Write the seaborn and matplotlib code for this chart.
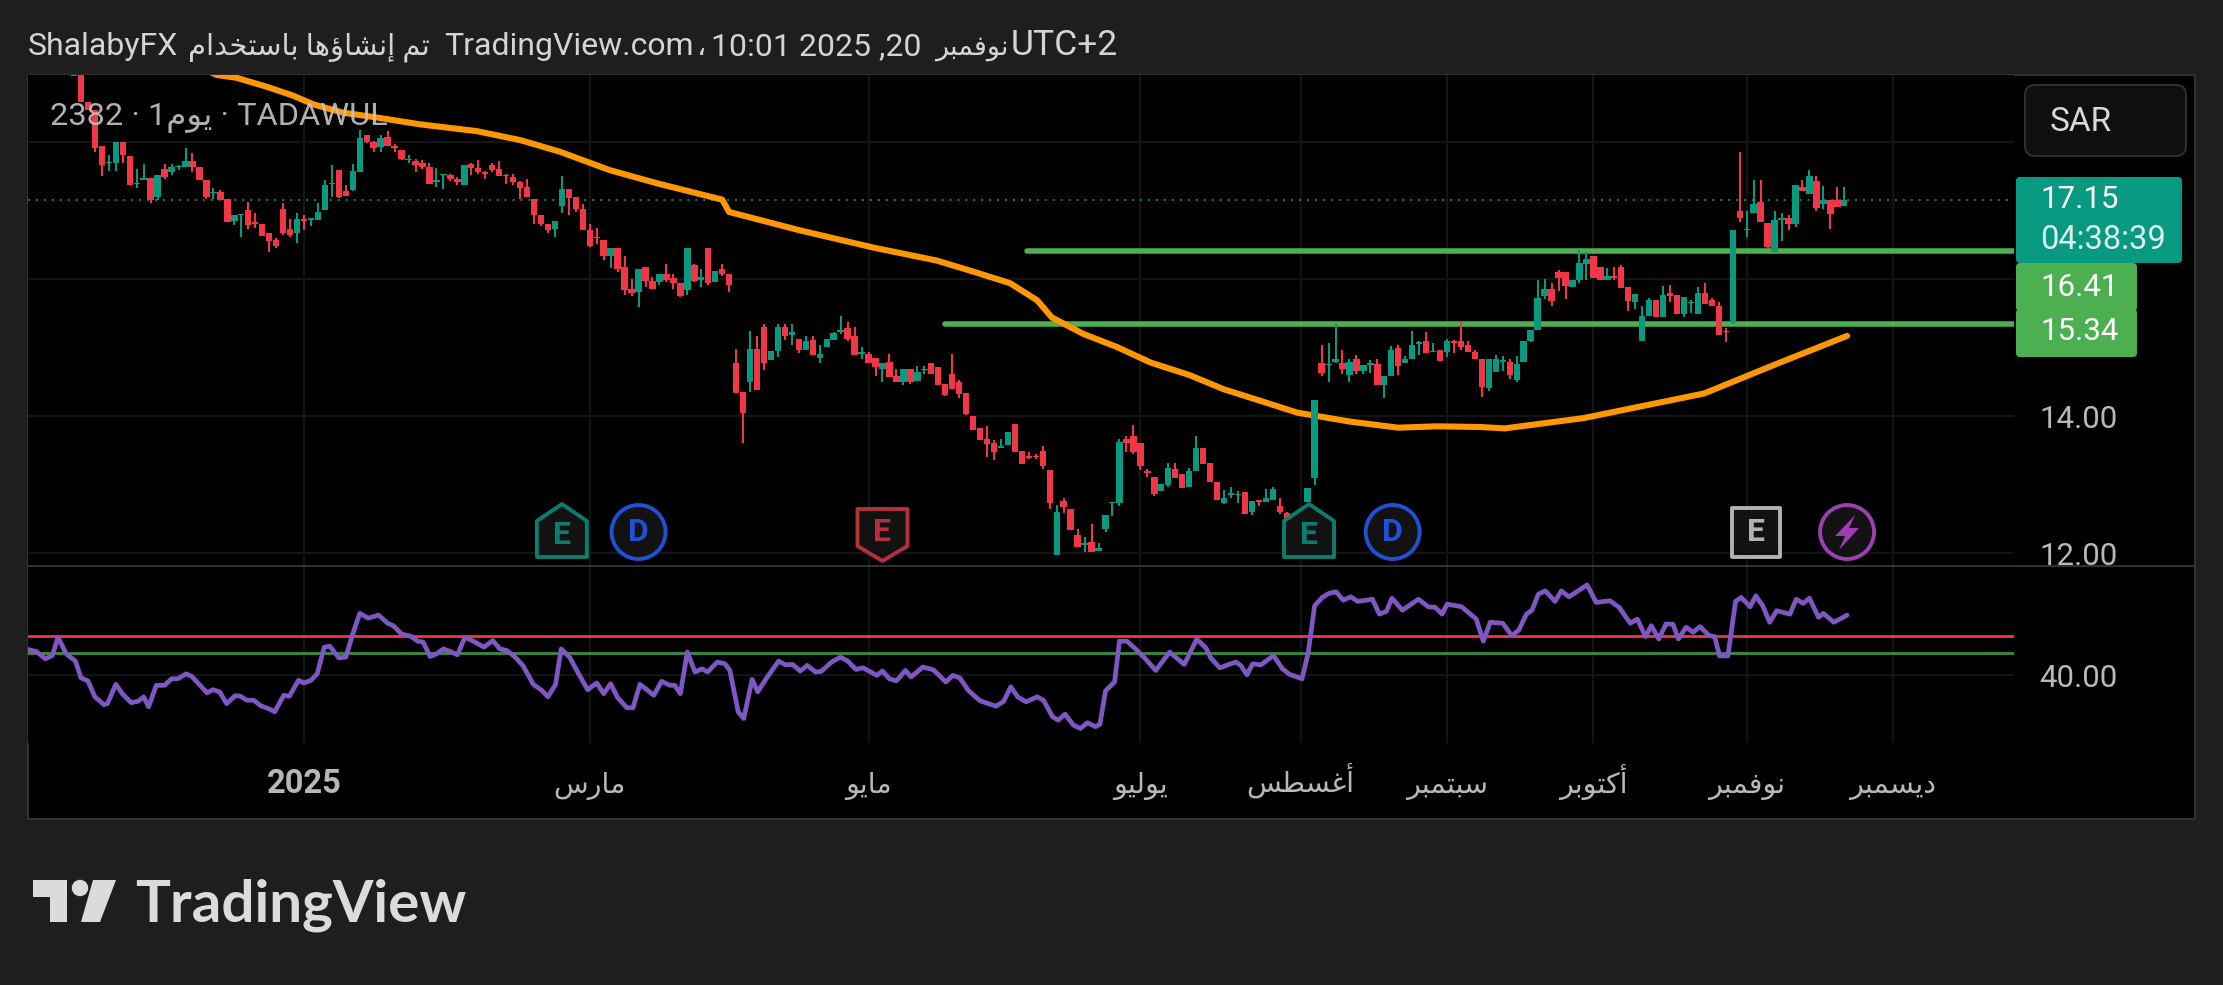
import unicodedata
import numpy as np
import matplotlib
matplotlib.use("Agg")
import matplotlib.pyplot as plt
import seaborn as sns
from matplotlib.patches import Circle, FancyBboxPatch, Polygon, Rectangle

# bars start one before the first readable candle, which is mostly off the top
open_px = [19.20,
    19.08,18.58,18.47,17.94,17.69,17.69,18.00,17.80,17.39,17.45,
    17.47,17.20,17.61,17.56,17.63,17.63,17.73,17.64,17.44,17.25,
    17.27,17.17,16.85,16.93,17.01,16.83,16.81,16.67,16.57,17.02,
    16.73,16.67,16.88,16.87,16.87,17.01,17.39,17.60,17.28,17.30,
    17.57,18.10,18.00,17.93,18.08,17.94,17.88,17.74,17.72,17.69,
    17.64,17.42,17.52,17.52,17.46,17.38,17.68,17.62,17.57,17.67,
    17.61,17.52,17.49,17.42,17.34,17.17,16.94,16.81,16.73,17.07,
    17.31,17.20,17.02,16.72,16.62,16.57,16.33,16.46,16.17,15.86,
    15.81,16.18,15.97,15.96,16.07,16.01,15.95,15.84,16.20,15.99,
    16.46,15.96,16.14,16.07,14.78,14.35,14.49,14.98,15.30,14.82,
    14.95,15.30,15.19,15.13,14.96,15.11,14.85,15.01,15.11,15.23,
    15.28,15.17,14.91,14.91,14.85,14.68,14.79,14.58,14.49,14.68,
    14.51,14.67,14.77,14.71,14.47,14.61,14.50,14.34,14.00,13.82,
    13.66,13.60,13.54,13.58,13.88,13.49,13.41,13.42,13.49,13.21,
    11.97,12.76,12.65,12.26,12.12,12.16,12.03,12.35,12.73,12.73,
    13.66,13.71,13.60,13.20,13.11,12.91,12.99,13.22,13.16,12.96,
    13.20,13.53,13.32,13.04,12.73,12.84,12.84,12.89,12.60,12.77,
    12.75,12.78,12.69,12.58,12.50,12.44,12.75,13.10,14.77,14.74,
    14.79,14.77,14.60,14.84,14.66,14.74,14.76,14.46,14.58,14.99,
    14.78,14.84,15.05,15.10,14.93,14.96,14.93,15.09,15.09,15.04,
    14.94,14.84,14.41,14.65,14.79,14.79,14.53,14.79,15.09,15.25,
    15.75,15.85,16.11,16.11,15.89,15.99,16.22,16.33,16.18,15.99,
    16.04,16.18,15.88,15.66,15.09,15.46,15.70,15.45,15.79,15.77,
    15.49,15.65,15.49,15.79,15.70,15.61,15.24,15.36,16.99,16.71,
    16.97,17.12,16.82,16.39,16.87,16.89,16.80,17.35,17.24,17.43,
    17.09,17.16,17.16,17.06]
high_px = [19.30,
    19.10,18.58,18.47,17.94,17.81,18.00,18.00,17.80,17.61,17.68,
    17.47,17.52,17.68,17.68,17.67,17.91,17.84,17.64,17.44,17.33,
    17.30,17.17,16.93,16.95,17.13,16.96,16.81,16.68,16.60,17.11,
    16.88,16.96,16.93,16.89,17.11,17.45,17.67,17.60,17.38,17.68,
    18.18,18.10,18.02,18.11,18.16,17.97,17.89,17.81,17.75,17.74,
    17.69,17.62,17.54,17.54,17.49,17.67,17.69,17.74,17.58,17.69,
    17.72,17.54,17.54,17.43,17.46,17.17,16.94,16.81,16.85,17.50,
    17.31,17.20,17.10,16.81,16.75,16.57,16.46,16.46,16.33,16.00,
    16.15,16.18,16.03,16.07,16.22,16.07,15.95,16.46,16.22,16.15,
    16.46,16.12,16.22,16.07,14.98,14.35,15.24,15.17,15.35,14.95,
    15.34,15.34,15.34,15.13,15.17,15.17,15.04,15.12,15.23,15.46,
    15.37,15.30,15.01,14.94,14.85,14.78,14.90,14.68,14.68,14.68,
    14.73,14.73,14.77,14.71,14.47,14.90,14.52,14.34,14.00,13.82,
    13.85,13.65,13.67,13.76,13.88,13.49,13.48,13.45,13.56,13.21,
    12.70,12.81,12.65,12.35,12.24,12.43,12.14,12.56,12.75,13.66,
    13.71,13.87,13.60,13.22,13.11,13.01,13.31,13.32,13.16,13.24,
    13.71,13.53,13.32,13.04,12.92,12.97,12.90,12.89,12.76,12.78,
    12.94,12.97,12.81,12.60,12.52,12.58,12.95,14.24,15.04,15.06,
    15.35,14.97,14.84,14.89,14.75,14.82,14.83,14.58,15.02,15.04,
    14.87,15.24,15.10,15.23,15.06,14.96,15.12,15.11,15.37,15.10,
    14.96,14.84,14.84,14.89,14.88,14.84,14.87,15.10,15.26,15.99,
    16.00,15.94,16.13,16.11,15.99,16.42,16.39,16.33,16.18,16.16,
    16.18,16.21,15.88,15.78,15.61,15.72,15.70,15.90,15.91,15.77,
    15.74,15.69,15.89,15.95,15.72,15.66,15.29,16.72,17.85,16.99,
    17.45,17.45,16.82,17.00,16.96,16.94,17.38,17.45,17.59,17.50,
    17.36,17.16,17.35,17.34]
low_px = [18.96,
    18.58,18.47,17.86,17.50,17.58,17.58,17.69,17.38,17.33,17.44,
    17.11,17.16,17.46,17.52,17.59,17.63,17.57,17.44,17.17,17.17,
    17.16,16.83,16.79,16.62,16.73,16.74,16.63,16.40,16.46,16.64,
    16.62,16.53,16.71,16.77,16.87,17.01,17.20,17.18,17.21,17.28,
    17.57,17.98,17.86,17.86,17.94,17.86,17.74,17.69,17.57,17.61,
    17.39,17.35,17.32,17.43,17.38,17.38,17.52,17.54,17.46,17.57,
    17.50,17.39,17.37,17.17,17.20,16.81,16.78,16.68,16.62,16.97,
    16.94,16.98,16.71,16.47,16.51,16.28,16.16,16.10,15.77,15.75,
    15.59,15.88,15.86,15.91,15.96,15.86,15.74,15.77,15.96,15.88,
    15.91,15.96,16.04,15.81,14.34,13.61,14.35,14.38,14.67,14.82,
    14.86,15.11,15.04,14.92,14.96,14.89,14.78,15.01,15.11,15.20,
    15.10,14.89,14.83,14.77,14.59,14.50,14.57,14.49,14.45,14.47,
    14.51,14.61,14.61,14.45,14.29,14.40,14.26,14.01,13.80,13.65,
    13.40,13.36,13.54,13.58,13.48,13.30,13.37,13.38,13.23,12.65,
    11.97,12.59,12.33,12.09,12.02,12.02,12.03,12.31,12.54,12.69,
    13.48,13.45,13.21,13.11,12.83,12.91,12.96,13.09,12.95,12.96,
    13.20,13.30,13.04,12.77,12.71,12.81,12.73,12.57,12.55,12.69,
    12.75,12.78,12.57,12.48,12.42,12.44,12.75,12.99,14.58,14.50,
    14.77,14.61,14.50,14.62,14.61,14.63,14.45,14.27,14.58,14.60,
    14.78,14.84,14.89,14.92,14.93,14.81,14.86,14.92,14.97,14.93,
    14.83,14.28,14.36,14.65,14.66,14.54,14.50,14.79,15.08,15.25,
    15.71,15.61,15.82,15.71,15.89,15.95,15.99,16.02,15.99,15.99,
    15.99,15.87,15.54,15.57,15.09,15.46,15.45,15.45,15.67,15.49,
    15.44,15.51,15.49,15.63,15.60,15.19,15.08,15.34,16.84,16.62,
    16.97,16.83,16.45,16.39,16.56,16.71,16.76,17.28,17.24,17.00,
    17.02,16.73,17.05,17.06]
close_px = [18.96,
    18.58,18.47,17.92,17.67,17.71,18.00,17.81,17.38,17.41,17.47,
    17.16,17.52,17.49,17.63,17.65,17.73,17.63,17.44,17.20,17.27,
    17.16,16.83,16.93,16.95,16.79,16.81,16.63,16.56,16.48,16.67,
    16.65,16.88,16.85,16.89,16.98,17.38,17.41,17.20,17.21,17.58,
    18.06,18.00,17.92,18.06,17.94,17.92,17.76,17.76,17.66,17.64,
    17.39,17.44,17.54,17.46,17.42,17.67,17.62,17.57,17.54,17.59,
    17.51,17.50,17.42,17.33,17.20,16.94,16.81,16.72,16.85,17.31,
    17.19,17.02,16.71,16.48,16.60,16.33,16.46,16.14,15.84,15.80,
    16.15,15.97,15.86,16.07,15.99,15.95,15.75,16.46,15.97,16.03,
    15.95,16.12,16.07,15.91,14.34,14.05,14.98,14.38,14.78,14.95,
    15.30,15.17,15.22,14.96,15.10,14.89,14.91,15.12,15.21,15.26,
    15.13,14.89,14.93,14.78,14.71,14.78,14.57,14.49,14.68,14.50,
    14.65,14.69,14.61,14.45,14.31,14.40,14.32,14.03,13.80,13.65,
    13.59,13.48,13.56,13.76,13.48,13.30,13.39,13.40,13.27,12.73,
    12.60,12.67,12.33,12.09,12.14,12.02,12.08,12.56,12.75,13.62,
    13.61,13.48,13.27,13.17,12.86,13.01,13.24,13.09,12.95,13.20,
    13.53,13.30,13.04,12.78,12.80,12.87,12.86,12.57,12.76,12.75,
    12.80,12.93,12.60,12.50,12.44,12.58,12.95,14.24,14.63,14.76,
    14.83,14.68,14.79,14.66,14.75,14.77,14.45,14.58,14.96,14.73,
    14.84,15.04,15.08,14.92,14.95,14.81,15.09,15.06,15.01,14.93,
    14.83,14.42,14.84,14.84,14.82,14.60,14.76,15.10,15.26,15.73,
    15.85,15.68,16.01,15.90,15.99,16.24,16.29,16.02,15.99,16.04,
    16.02,15.87,15.68,15.78,15.46,15.70,15.45,15.77,15.76,15.49,
    15.74,15.67,15.79,15.63,15.60,15.19,15.22,16.72,16.89,16.73,
    17.10,16.83,16.47,16.86,16.89,16.81,17.38,17.29,17.50,17.04,
    17.15,16.95,17.05,17.15]

ma_bar = [10, 16, 19.5, 22.3, 26.6, 30.4, 33.4, 37.6, 42.4, 48.6, 56.8, 63, 68.7, 75.9, 82.6, 92, 93,
          103.2, 113.7, 122.8, 128, 133.3, 137.2, 139.3, 143.8, 148.6, 153.5, 159, 164, 169.6, 174.5,
          182, 189, 194.5, 200.7, 204.3, 215.6, 232.9, 243.5, 253.4]
ma_val = [19.45, 19.15, 18.98, 18.94, 18.81, 18.68, 18.55, 18.43, 18.36, 18.26, 18.16, 18.03, 17.86, 17.59, 17.40, 17.16, 16.98,
          16.71, 16.46, 16.27, 16.11, 15.94, 15.69, 15.44, 15.20, 15.01, 14.78, 14.60, 14.39, 14.21, 14.05,
          13.92, 13.83, 13.85, 13.84, 13.82, 13.97, 14.33, 14.77, 15.17]

rsi_bar = [-7.6,-6.4,-5.1,-4.1,-3.3,-2.1,-0.8,0.0,1.0,2.0,3.3,3.8,5.0,6.0,7.2,8.2,9.0,9.7,10.8,12.0,
    13.0,13.9,15.1,15.9,17.1,18.1,18.9,19.9,20.9,22.1,22.8,23.8,24.8,25.8,26.9,27.8,29.1,29.9,31.2,32.0,
    33.0,33.9,34.9,35.7,37.0,38.0,39.0,40.0,41.2,42.7,44.0,44.8,46.0,47.3,48.3,49.1,50.1,51.0,52.0,53.0,
    54.0,55.1,56.3,57.8,59.1,60.1,61.1,62.2,63.4,64.9,66.1,67.0,68.1,68.9,70.1,71.4,72.7,74.0,75.0,76.0,
    77.0,78.3,79.2,80.2,82.2,83.3,84.5,85.2,86.0,87.0,88.1,89.1,89.9,91.3,92.4,93.1,94.3,95.1,96.3,97.1,
    98.3,100.1,101.1,102.1,103.2,104.2,105.4,106.2,107.7,109.0,110.0,111.2,112.2,114.2,115.0,116.0,117.0,118.3,119.1,120.8,
    122.3,124.1,125.1,126.1,127.3,129.0,131.3,132.4,133.4,134.4,135.6,137.2,138.1,139.4,140.2,141.2,142.4,143.4,144.4,145.6,
    146.2,147.0,148.3,149.0,150.1,151.3,152.6,154.2,156.2,158.3,160.1,161.4,162.1,163.4,164.7,165.7,166.4,167.3,168.1,169.3,
    171.1,172.4,173.4,175.2,176.1,177.0,178.1,179.1,180.1,181.1,182.2,183.2,185.3,186.3,187.3,188.1,189.6,191.9,193.3,194.3,
    195.3,196.0,198.1,200.2,201.2,202.2,204.0,205.3,206.3,207.4,208.2,209.1,210.1,211.5,212.4,213.5,216.1,217.4,219.4,220.7,
    222.3,223.3,224.5,225.3,226.4,227.4,228.4,229.2,230.3,231.3,232.3,233.6,234.4,235.1,236.3,237.4,238.2,239.5,240.3,241.3,
    242.3,243.3,245.2,246.1,247.1,248.0,249.3,250.0,251.5,253.4]
rsi_val = [53.0,52.0,48.3,50.0,59.2,50.8,47.2,38.8,37.2,29.2,25.3,25.8,35.5,30.5,26.3,27.0,29.2,24.2,35.0,35.0,
    38.3,38.3,40.8,39.5,35.0,31.2,32.8,31.7,25.8,29.7,29.7,27.5,27.5,24.7,23.3,21.7,30.0,29.5,37.5,36.2,
    37.5,40.8,54.2,54.7,48.8,49.2,60.8,71.2,68.8,70.3,66.2,65.0,60.8,59.7,57.2,56.7,49.5,50.8,53.3,52.0,
    50.3,59.2,57.2,54.2,57.5,53.3,52.5,49.5,45.0,35.5,32.5,29.2,35.5,53.3,49.2,40.8,32.8,36.2,30.8,35.8,
    28.8,23.8,23.7,35.5,30.0,37.0,35.0,35.0,30.8,51.7,41.7,43.3,41.7,46.7,45.8,42.5,21.7,18.3,38.0,31.7,
    38.3,47.2,45.3,45.5,42.2,45.0,41.7,42.0,46.7,49.2,47.2,43.0,43.8,40.0,42.2,38.3,37.2,42.5,39.2,44.2,
    42.8,36.7,40.0,38.7,32.5,27.2,24.5,27.0,34.2,29.2,26.7,29.2,27.5,19.2,17.5,20.5,15.0,13.3,16.2,14.2,
    15.5,32.2,36.7,57.2,57.2,53.3,48.8,42.5,51.7,45.5,58.3,53.8,48.8,43.8,45.5,46.7,45.0,40.3,45.8,45.3,
    50.0,43.3,40.5,38.3,51.7,75.0,79.2,81.3,82.0,77.8,79.5,77.2,78.3,70.8,72.2,78.8,72.8,78.3,74.5,74.2,
    70.8,75.8,74.5,68.3,57.2,66.7,66.2,60.0,62.8,70.8,72.8,80.8,82.5,77.2,82.5,79.5,85.5,76.7,77.5,74.2,
    66.2,68.3,59.5,65.0,58.3,65.8,65.8,58.3,64.2,61.7,64.5,60.0,59.5,49.8,49.8,77.2,79.2,74.5,80.0,75.0,
    66.7,72.5,70.8,78.3,76.2,78.8,69.2,71.2,66.7,70.3]

level_prices = [16.41, 15.34]
level_start = [135.7, 124]
rsi_upper = 60.0
rsi_lower = 51.2
price_ticks = [12, 14, 16, 18]
rsi_ticks = [40]
month_bar = [32, 73, 113, 152, 175, 196, 217, 239, 260]
month_names = ["2025", "مارس", "مايو", "يوليو", "أغسطس", "سبتمبر", "أكتوبر", "نوفمبر", "ديسمبر"]
events_e = [(69, "#0b7d6c"), (115, "#b5303c"), (176.2, "#0b7d6c"), (240.3, "#b2b2b2")]
events_d = [80, 188.2]
event_bolt = 253.4

RED = "#F23645"
TEAL = "#089981"
GREEN = "#4CAF50"
ORANGE = "#FF9800"
PURPLE = "#7E57C2"
GRID = "#141414"
TXT = "#b8b8b8"
W, H = 2223, 985

NO_JOIN_NEXT = "ادذرزوأإآؤء"


def ar(word):
    # matplotlib does no shaping or bidi, so pick the joined forms and flip the word
    out = []
    for k, ch in enumerate(word):
        joins_prev = k > 0 and word[k - 1] not in NO_JOIN_NEXT
        joins_next = k < len(word) - 1 and ch not in NO_JOIN_NEXT
        if joins_prev and joins_next:
            form = "MEDIAL"
        elif joins_prev:
            form = "FINAL"
        elif joins_next:
            form = "INITIAL"
        else:
            form = "ISOLATED"
        out.append(unicodedata.lookup(f"{unicodedata.name(ch)} {form} FORM"))
    return "".join(reversed(out))


sns.set_theme(style="dark", rc={"axes.facecolor": "black", "figure.facecolor": "#1e1e1e"})
plt.rcParams["font.family"] = ["Roboto", "DejaVu Sans"]

fig = plt.figure(figsize=(W / 100, H / 100), dpi=100, facecolor="#1e1e1e")


def box(left, top, right, bottom):
    return [left / W, 1 - bottom / H, (right - left) / W, (bottom - top) / H]


bg = fig.add_axes([0, 0, 1, 1], zorder=0)
bg.set_xlim(0, W)
bg.set_ylim(H, 0)
bg.axis("off")
bg.add_patch(Rectangle((28, 75), 2167, 744, facecolor="black", edgecolor="#303030", lw=1.5))
bg.plot([28, 2195], [566, 566], color="#303030", lw=1.6)

ax = fig.add_axes(box(28, 75, 2014, 565), zorder=2)
ax_rsi = fig.add_axes(box(28, 567, 2014, 743), zorder=2)
over = fig.add_axes([0, 0, 1, 1], zorder=5)
over.set_xlim(0, W)
over.set_ylim(H, 0)
over.axis("off")
over.patch.set_alpha(0)

# price pane
bars = np.arange(-1, 254)
o = np.array(open_px)
c = np.array(close_px)
colors = [TEAL if cl >= op else RED for op, cl in zip(o, c)]

for price, start in zip(level_prices, level_start):
    ax.plot([start, 277.4], [price, price], color=GREEN, lw=4.0, zorder=2, solid_capstyle="round")
ax.axhline(close_px[-1], color=TEAL, lw=1.3, ls=(0, (1, 3.4)), zorder=1.5)
sns.lineplot(x=ma_bar, y=ma_val, ax=ax, color=ORANGE, lw=4.4, sort=False, estimator=None,
             zorder=3, solid_capstyle="round")
ax.vlines(bars, low_px, high_px, colors=colors, lw=1.45, zorder=4)
ax.bar(bars, np.abs(c - o), bottom=np.minimum(o, c), width=0.92, color=colors, lw=0, zorder=4)

ax.set_xlim(-7.6, 277.35)
ax.set_ylim(11.825, 18.98)
ax.set_yticks(price_ticks)
ax.set_yticklabels(["12.00", "14.00", "", ""])

# rsi pane
ax_rsi.axhline(rsi_upper, color=RED, lw=2.0, zorder=2)
ax_rsi.axhline(rsi_lower, color="#388E3C", lw=2.0, zorder=2)
sns.lineplot(x=rsi_bar, y=rsi_val, ax=ax_rsi, color=PURPLE, lw=3.4, sort=False, estimator=None, zorder=3)
ax_rsi.set_xlim(-7.6, 277.35)
ax_rsi.set_ylim(6, 94.5)
ax_rsi.set_yticks(rsi_ticks)
ax_rsi.set_yticklabels(["40.00"])

for a in (ax, ax_rsi):
    a.set_xlabel("")
    a.set_ylabel("")
    a.yaxis.tick_right()
    a.set_xticks(month_bar)
    a.grid(True, color=GRID, lw=1.6)
    a.set_axisbelow(True)
    a.tick_params(axis="both", length=0)
    a.tick_params(axis="y", labelsize=22.5, labelcolor=TXT, pad=18.5)
    for s in a.spines.values():
        s.set_visible(False)
    a.set_facecolor("black")
ax.set_xticklabels([])
ax_rsi.set_xticklabels(["2025"] + [ar(n) for n in month_names[1:]])
ax_rsi.tick_params(axis="x", labelsize=20.5, labelcolor=TXT, pad=36)
for lab in ax_rsi.get_xticklabels():
    lab.set_verticalalignment("baseline")
year_lab = ax_rsi.get_xticklabels()[0]
year_lab.set_fontweight("bold")
year_lab.set_fontsize(23.5)

# event badges, x follows the bar scale
fig.canvas.draw()
def bar_x(i):
    return ax.transData.transform((i, 12))[0]


for i, col in events_e:
    cx = bar_x(i)
    if col == "#b5303c":
        pts = [(cx - 25, 509), (cx + 25, 509), (cx + 25, 546), (cx, 561), (cx - 25, 546)]
        ty = 532
    elif col == "#b2b2b2":
        pts = [(cx - 24, 508), (cx + 24, 508), (cx + 24, 557), (cx - 24, 557)]
        ty = 532
    else:
        pts = [(cx, 504), (cx + 25, 521), (cx + 25, 557), (cx - 25, 557), (cx - 25, 521)]
        ty = 535
    over.add_patch(Polygon(pts, closed=True, facecolor="#121212", edgecolor=col, lw=2.8, joinstyle="round"))
    over.text(cx, ty, "E", color=col, fontsize=23, fontweight="bold", ha="center", va="center")

for i in events_d:
    cx = bar_x(i)
    over.add_patch(Circle((cx, 532), 27, facecolor="#121212", edgecolor="#1f51d6", lw=2.8))
    over.text(cx, 532, "D", color="#1f51d6", fontsize=23, fontweight="bold", ha="center", va="center")

cx = bar_x(event_bolt)
over.add_patch(Circle((cx, 532), 27, facecolor="#121212", edgecolor="#9c3fb0", lw=2.8))
over.add_patch(Polygon([(cx + 8, 515), (cx - 12, 536), (cx - 2, 536), (cx - 8, 550), (cx + 12, 528), (cx + 2, 528)],
                       closed=True, facecolor="#9c3fb0", edgecolor="none"))

# price tags and the currency button
def tag(left, top, right, bottom, col):
    over.add_patch(FancyBboxPatch((left, top), right - left, bottom - top, boxstyle="round,pad=0,rounding_size=4",
                                  facecolor=col, edgecolor="none"))


tag(2016, 177, 2182, 263, TEAL)
tag(2016, 263, 2137, 311, GREEN)
tag(2016, 309, 2137, 357, GREEN)
over.text(2040, 200, f"{close_px[-1]:.2f}", color="#ffffff", fontsize=22.5, va="center")
over.text(2040, 240, "04:38:39", color="#dcefeb", fontsize=23.5, va="center")
over.text(2040, 287, f"{level_prices[0]:.2f}", color="#ffffff", fontsize=22.5, va="center")
over.text(2040, 332, f"{level_prices[1]:.2f}", color="#ffffff", fontsize=22.5, va="center")

over.add_patch(FancyBboxPatch((2025, 85), 161, 71, boxstyle="round,pad=0,rounding_size=10",
                              facecolor="#0f0f0f", edgecolor="#2e2e2e", lw=1.5))
over.text(2050, 122, "SAR", color="#d8d8d8", fontsize=24, va="center")

# headers, split up because the Arabic runs are narrower in the original
head = "#d4d4d4"
over.text(28, 55, "ShalabyFX", color=head, fontsize=23, va="baseline")
over.text(188, 55, ar("باستخدام") + " " + ar("إنشاؤها") + " " + ar("تم"), color=head, fontsize=21, va="baseline")
over.text(444, 55, "TradingView.com", color=head, fontsize=23, va="baseline")
over.text(697, 55, "،", color=head, fontsize=21, va="baseline")
over.text(711, 55, "10:01 2025 ,20", color=head, fontsize=23, va="baseline")
over.text(935, 55, ar("نوفمبر"), color=head, fontsize=19.5, va="baseline")
over.text(1011, 55, "UTC+2", color=head, fontsize=25.5, va="baseline")
over.text(50, 118, "2382 · 1" + ar("يوم") + " · TADAWUL", color="#c4c4c4", fontsize=23.4, va="center", alpha=0.9)

# logo
logo = "#dbdbdb"
over.add_patch(Polygon([(33, 880), (67, 880), (67, 922), (50, 922), (50, 897), (33, 897)], facecolor=logo, edgecolor="none"))
over.add_patch(Circle((80, 888), 8.2, facecolor=logo, edgecolor="none"))
over.add_patch(Polygon([(93, 880), (116, 880), (100, 922), (81, 922)], facecolor=logo, edgecolor="none"))
over.text(135, 922, "TradingView", color=logo, fontsize=42, family="Lato", fontweight="bold", va="baseline")

fig.savefig("out.png", dpi=100, facecolor=fig.get_facecolor())
